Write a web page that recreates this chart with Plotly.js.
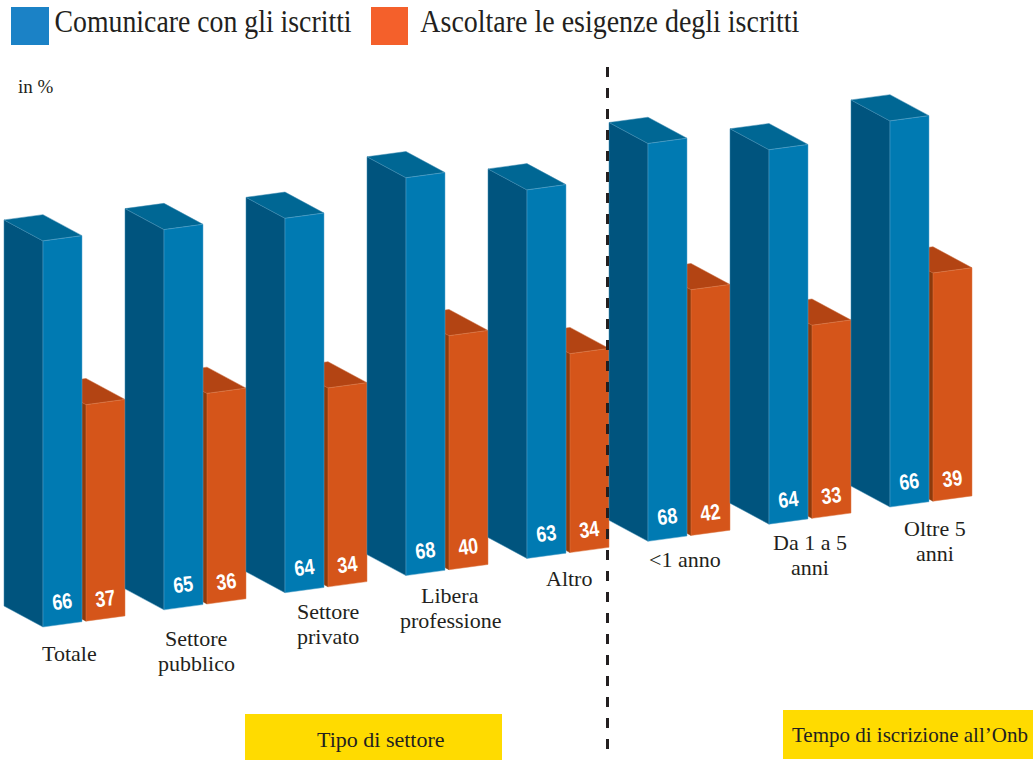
<!DOCTYPE html>
<html><head><meta charset="utf-8">
<script src="https://cdn.plot.ly/plotly-3.0.1.min.js"></script>
<style>html,body{margin:0;padding:0;background:#fff}#c{width:1033px;height:760px}</style>
</head><body><div id="c"></div>
<script>
const categories = ["Totale","Settore<br>pubblico","Settore<br>privato","Libera<br>professione","Altro","&lt;1 anno","Da 1 a 5<br>anni","Oltre 5<br>anni"];
const comunicare = [66,65,64,68,63,68,64,66];
const ascoltare = [37,36,34,40,34,42,33,39];
const seriesNames = ["Comunicare con gli iscritti","Ascoltare le esigenze degli iscritti"];
const groupLabels = ["Tipo di settore","Tempo di iscrizione all’Onb"];
const unitLabel = "in %";

// projection
const W=1033,H=760,PX_X=121,PX_Y=5.85,X0=43,Y0=627;
const barW=39/PX_X, depthX=39/PX_X, depthY=21/PX_Y, rise=2.93, tilt=0.9, orangeOff=43/PX_X;
const px=x=>(x-X0)/PX_X, py=y=>(Y0-y)/PX_Y;
const fx=x=>x/W, fy=y=>1-y/H;
const SERIF="Liberation Serif, serif", INK="#231f20";

function poly(store,pts){pts.concat([pts[0]]).forEach(p=>{store.x.push(p[0]);store.y.push(p[1]);});store.x.push(null);store.y.push(null);}
const P=()=>({x:[],y:[]});
const bs=P(),bt=P(),bf=P(),os=P(),ot=P(),of_=P();
function box(x,b,v,side,top,front){
  const fl=[x,b],fr=[x+barW,b+tilt],tl=[x,b+v],tr=[x+barW,b+v+tilt];
  const bl=[x-depthX,b+v+depthY],br=[x+barW-depthX,b+v+tilt+depthY],bb=[x-depthX,b+depthY];
  poly(side,[fl,tl,bl,bb]);poly(top,[tl,tr,br,bl]);poly(front,[fl,fr,tr,tl]);
}
comunicare.forEach((v,i)=>{
  const b=rise*i;
  box(i+orangeOff,b+1.0,ascoltare[i],os,ot,of_);
  box(i,b,v,bs,bt,bf);
});
const tr=(d,fill,line)=>({type:'scatter',mode:'lines',x:d.x,y:d.y,fill:'toself',fillcolor:fill,line:{color:line,width:0.5},hoverinfo:'skip',showlegend:false});
const traces=[tr(os,'#8e3a0b','#8e3a0b'),tr(ot,'#b34413','#c8693a'),tr(of_,'#d5551a','#dd7a48'),
              tr(bs,'#00547e','#3f8bb0'),tr(bt,'#006794','#3f8bb0'),tr(bf,'#007ab2','#5aa6cc')];

const annotations=[];
const txt=(x,y,text,size,extra)=>annotations.push(Object.assign({xref:'paper',yref:'paper',x:fx(x),y:fy(y),text,showarrow:false,xanchor:'center',yanchor:'middle',font:{family:SERIF,size,color:INK}},extra||{}));
// value labels
const numFont={family:"Liberation Sans, sans-serif",size:22,color:'#fff',weight:700};
comunicare.forEach((v,i)=>annotations.push({xref:'x',yref:'y',x:i+19/PX_X,y:rise*i+4.3,text:String(v),showarrow:false,textangle:-7,font:numFont,xanchor:'center',yanchor:'middle'}));
ascoltare.forEach((v,i)=>annotations.push({xref:'x',yref:'y',x:i+62/PX_X,y:rise*i+4.9,text:String(v),showarrow:false,textangle:-7,font:numFont,xanchor:'center',yanchor:'middle'}));
// category labels, one annotation per line
const catX=[69,196,328,450,569,685,810,935];
const catY=[653,638,611,595,578,559,542,528];
categories.forEach((c,i)=>c.split('<br>').forEach((line,k)=>txt(catX[i],catY[i]+25*k,line,22)));
// legend & notes
txt(202.5,20.5,seriesNames[0],32);
txt(609.5,20.5,seriesNames[1],32);
txt(16,86,unitLabel,19,{xanchor:'left'});
txt(381,739,groupLabels[0],22);
txt(910,735,groupLabels[1],21);

const rect=(x0,y0,x1,y1,c)=>({type:'rect',xref:'paper',yref:'paper',x0:fx(x0),x1:fx(x1),y0:fy(y0),y1:fy(y1),fillcolor:c,line:{width:0},layer:'below'});
const shapes=[rect(11,7,49,45,'#1b82c6'),rect(371,7,408,45,'#f4602b'),rect(245,714,502,760,'#ffdb00'),rect(783,710,1033,759,'#ffdb00'),
 {type:'line',xref:'paper',yref:'paper',x0:fx(607.5),x1:fx(607.5),y0:fy(67),y1:fy(760),line:{color:INK,width:3,dash:'10px,11px'},layer:'above'}];

// The printed faces are condensed: narrow these text runs to their printed widths.
const widths={}; widths[seriesNames[0]]=297; widths[seriesNames[1]]=379;
comunicare.concat(ascoltare).forEach(v=>widths[String(v)]=20);

Plotly.newPlot('c',traces,{
  width:W,height:H,margin:{l:0,r:0,t:0,b:0},paper_bgcolor:'#fff',plot_bgcolor:'#fff',showlegend:false,
  xaxis:{visible:false,range:[px(0),px(W)],fixedrange:true},
  yaxis:{visible:false,range:[py(H),py(0)],fixedrange:true},
  annotations,shapes
},{displayModeBar:false,staticPlot:true}).then(gd=>{
  gd.querySelectorAll('.annotation-text').forEach(t=>{
    const w=widths[t.textContent];
    if(w){t.setAttribute('textLength',w);t.setAttribute('lengthAdjust','spacingAndGlyphs');}
  });
});
</script></body></html>
